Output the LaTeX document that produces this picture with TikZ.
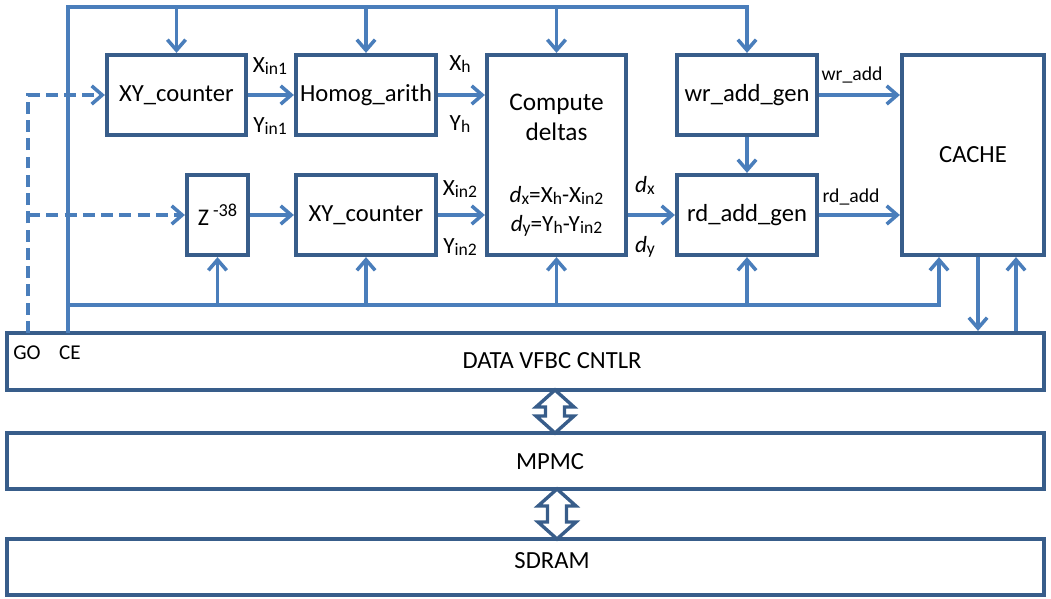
\documentclass[tikz,border=0pt]{standalone}
\usepackage{fontspec}
\setmainfont{Carlito}
\usetikzlibrary{arrows.meta}
\definecolor{wireblue}{HTML}{4A7EBB}
\definecolor{boxblue}{HTML}{385D8A}
\newcommand{\px}{0.025cm}
\newcommand{\lo}[1]{\raisebox{-0.2ex}{\fontsize{12.5}{12.5}\selectfont #1}}

\begin{document}
\begin{tikzpicture}[x=0.025cm, y=-0.025cm,
  blk/.style={draw=boxblue, line width=3pt, inner sep=0pt, font=\fontsize{17.5}{21}\selectfont},
  bar/.style={blk, minimum width=1037*\px},
  wire/.style={draw=wireblue, line width=2.5pt, -{Straight Barb[length=7.5pt,width=13pt]}},
  dwire/.style={wire, dash pattern=on 8.5pt off 4.5pt},
  lbl/.style={font=\fontsize{16.5}{16.5}\selectfont, inner sep=0pt, anchor=base},
  sig/.style={font=\fontsize{14}{14}\selectfont, inner sep=0pt, anchor=base},
  txt/.style={font=\fontsize{17.5}{17.5}\selectfont, inner sep=0pt, anchor=base},
  hollow/.style={draw=boxblue, line width=2.4pt, fill=white, line join=miter}]
  \useasboundingbox (0,0) rectangle (1051,598);

  \node[blk, minimum width=139*\px, minimum height=80*\px] (xy1) at (176.5,95) {XY\_counter};
  \node[blk, minimum width=140*\px, minimum height=80*\px] (homog) at (366,95) {Homog\_arith};
  \node[blk, minimum width=139*\px, minimum height=200*\px] (comp) at (556.5,155) {};
  \node[blk, minimum width=140*\px, minimum height=80*\px] (wrgen) at (747,95) {wr\_add\_gen};
  \node[blk, minimum width=61*\px, minimum height=80*\px, font=\fontsize{17}{20}\selectfont] (zdel) at (217.5,215)
    {Z\,\raisebox{0.8ex}{\fontsize{13}{13}\selectfont -38}};
  \node[blk, minimum width=140*\px, minimum height=80*\px] (xy2) at (366,215) {XY\_counter};
  \node[blk, minimum width=140*\px, minimum height=80*\px] (rdgen) at (747,215) {rd\_add\_gen};
  \node[blk, minimum width=142*\px, minimum height=200*\px] (cache) at (973,155) {CACHE};

  \node[bar, minimum height=57*\px] (data) at (525.5,361.5) {};
  \node[bar, minimum height=56*\px] (mpmc) at (525.5,461) {};
  \node[bar, minimum height=56*\px] (sdram) at (525.5,567) {};
  \node[txt] (datatxt) at (552,368) {DATA VFBC CNTLR};
  \node[txt] (mpmctxt) at (550,469) {MPMC};
  \node[txt] (sdramtxt) at (552,568) {SDRAM};

  \node[txt, font=\fontsize{18}{18}\selectfont] (cmp1) at (556.5,110) {Compute};
  \node[txt, font=\fontsize{18}{18}\selectfont] (cmp2) at (556.5,140) {deltas};
  \node[txt, font=\fontsize{16.5}{16.5}\selectfont] (eqx) at (556.5,202) {\textit{d}\lo{x}=X\lo{h}-X\lo{in2}};
  \node[txt, font=\fontsize{16.5}{16.5}\selectfont] (eqy) at (556.5,231) {\textit{d}\lo{y}=Y\lo{h}-Y\lo{in2}};

  \node[lbl] (xin1) at (270,72) {X\lo{in1}};
  \node[lbl] (yin1) at (270,132) {Y\lo{in1}};
  \node[lbl] (xh) at (460,70) {X\lo{h}};
  \node[lbl] (yh) at (460,130) {Y\lo{h}};
  \node[lbl] (xin2) at (460,195) {X\lo{in2}};
  \node[lbl] (yin2) at (460,253) {Y\lo{in2}};
  \node[lbl] (dx) at (645,192) {\textit{d}\lo{x}};
  \node[lbl] (dy) at (645,252) {\textit{d}\lo{y}};
  \node[sig] (wradd) at (852,80) {wr\_add};
  \node[sig] (rdadd) at (851,202) {rd\_add};
  \node[sig, font=\fontsize{15}{15}\selectfont] (golbl) at (27,359) {GO};
  \node[sig, font=\fontsize{15}{15}\selectfont] (celbl) at (70,359) {CE};

  \coordinate (ce) at (68,333);
  \coordinate (topbus) at (68,7);
  \coordinate (botbus) at (68,305);
  \coordinate (go) at (28,333);
  \coordinate (cin) at (939,305);
  \coordinate (cdn) at (978,0);
  \coordinate (cup) at (1016,0);

  \draw[wire] (ce) -- (topbus) -| (wrgen.north);
  \foreach \b in {xy1,homog,comp}
    \draw[wire] (topbus -| \b.north) -- (\b.north);
  \draw[wire] (botbus) -| (cache.south -| cin);
  \foreach \b in {zdel,xy2,comp,rdgen}
    \draw[wire] (botbus -| \b.south) -- (\b.south);
  \draw[wire] (cache.south -| cdn) -- (data.north -| cdn);
  \draw[wire] (data.north -| cup) -- (cache.south -| cup);

  \draw[dwire] (go) |- (xy1.west);
  \draw[dwire] (go |- zdel.west) -- (zdel.west);

  \draw[wire] (xy1) -- (homog);
  \draw[wire] (homog.east) -- (homog.east -| comp.west);
  \draw[wire] (zdel) -- (xy2);
  \draw[wire] (xy2.east) -- (xy2.east -| comp.west);
  \draw[wire] (comp.east |- rdgen.west) -- (rdgen.west);
  \draw[wire] (wrgen) -- (rdgen);
  \draw[wire] (wrgen.east) -- (wrgen.east -| cache.west);
  \draw[wire] (rdgen.east) -- (rdgen.east -| cache.west);

  \foreach \cx/\ta/\tb in {555/390/433, 557/489/539}
    \draw[hollow] (\cx,\ta) -- ++(19,17) -- ++(-9.5,0) -- (\cx+9.5,\tb-17) -- ++(9.5,0)
      -- (\cx,\tb) -- ++(-19,-17) -- ++(9.5,0) -- (\cx-9.5,\ta+17) -- ++(-9.5,0) -- cycle;
\end{tikzpicture}
\end{document}
